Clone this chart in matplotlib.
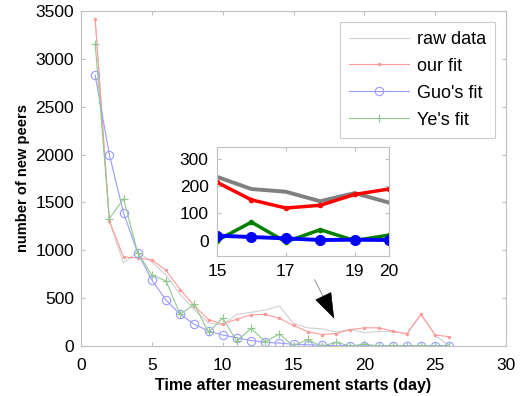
import matplotlib
matplotlib.use("Agg")
import matplotlib.pyplot as plt
import numpy as np

plt.rcParams['font.family'] = ['Liberation Sans', 'DejaVu Sans']

days = list(range(1, 27))
raw_data = [3420, 1300, 870, 980, 880, 740, 540, 380, 240, 220, 330, 352, 376, 418,
            235, 190, 180, 145, 175, 140, 150, 150, 130, 330, 110, 5]
our_fit = [3420, 1310, 930, 920, 900, 790, 590, 420, 275, 230, 280, 324, 331, 289,
           215, 150, 120, 130, 170, 190, 190, 157, 125, 331, 115, 97]
guo_fit = [2830, 2000, 1390, 975, 690, 480, 331, 227, 157, 115, 87, 57, 40, 30,
           18, 13, 8, 2, 3, 2, 3, 3, 3, 3, 3, 3]
ye_fit = [3160, 1330, 1540, 975, 742, 680, 331, 435, 143, 290, 50, 185, 45, 125,
          0, 68, -5, 40, 0, 20, 0, 5, 0, 5, 0, 5]

series_labels = ["raw data", "our fit", "Guo's fit", "Ye's fit"]
main_xticks = [0, 5, 10, 15, 20, 25, 30]
main_yticks = [0, 500, 1000, 1500, 2000, 2500, 3000, 3500]
inset_days = days[14:20]
inset_xticks = [15, 17, 19, 20]
inset_yticks = [0, 100, 200, 300]

spine_col = '#c0c0c0'

fig = plt.figure(figsize=(5.2, 3.96), dpi=100)
ax = fig.add_axes([81/520, 1-346/396, (506-81)/520, (346-11)/396])

ax.plot(days, raw_data, color='#d0d0d0', lw=0.8, label=series_labels[0])
ax.plot(days, our_fit, color='#ff9a9a', lw=0.8, marker='.', ms=3, label=series_labels[1])
ax.plot(days, guo_fit, color='#9a9aff', lw=0.8, marker='o', ms=6, mfc='none', mew=0.8,
        label=series_labels[2])
ax.plot(days, ye_fit, color='#8fc98f', lw=0.8, marker='+', ms=6, mew=0.8,
        label=series_labels[3])

ax.set_xlim(0, 30)
ax.set_ylim(0, 3500)
ax.set_xticks(main_xticks)
ax.set_yticks(main_yticks)
ax.tick_params(direction='in', length=3, color=spine_col, labelsize=12.5,
               top=True, right=True)
ax.tick_params(axis='x', pad=9)
ax.tick_params(axis='y', pad=5)
for s in ax.spines.values():
    s.set_color(spine_col)
    s.set_linewidth(0.8)
ax.set_xlabel("Time after measurement starts (day)", fontsize=11.5, fontweight='bold',
              labelpad=3)
ax.set_ylabel("number of new peers", fontsize=10.5, fontweight='bold', labelpad=4)

leg = ax.legend(loc='upper right', fontsize=13, frameon=True, fancybox=False,
                edgecolor=spine_col, numpoints=1, handlelength=3.3, handletextpad=0.45,
                labelspacing=0.55, borderaxespad=0.6, borderpad=0.5)
leg.get_frame().set_linewidth(0.8)

# arrow pointing at the zoomed region
ax.annotate('', xy=(17.95, 262), xytext=(16.4, 720),
            arrowprops=dict(arrowstyle='-', color='#808080', lw=0.6))
ax.annotate('', xy=(17.95, 262), xytext=(17.5, 400),
            arrowprops=dict(arrowstyle='-|>,head_length=1.7,head_width=0.6',
                            color='black', lw=0.5))

# inset
axi = fig.add_axes([217/520, 1-256/396, (389-217)/520, (256-147)/396])
axi.plot(inset_days, raw_data[14:20], color='#808080', lw=2.8)
axi.plot(inset_days, our_fit[14:20], color='#ff0000', lw=2.5, marker='.', ms=6)
axi.plot(inset_days, ye_fit[14:20], color='#008000', lw=2.5, marker='.', ms=6)
axi.plot(inset_days, guo_fit[14:20], color='#0000ff', lw=2.8, marker='o', ms=7)
axi.set_xlim(15, 20)
axi.set_ylim(-57, 345)
axi.set_xticks(inset_xticks)
axi.set_yticks(inset_yticks)
axi.tick_params(direction='in', length=3, color=spine_col, labelsize=12.5,
                top=True, right=True, pad=6)
for s in axi.spines.values():
    s.set_color(spine_col)
    s.set_linewidth(0.8)

fig.savefig('out.png', dpi=100)
